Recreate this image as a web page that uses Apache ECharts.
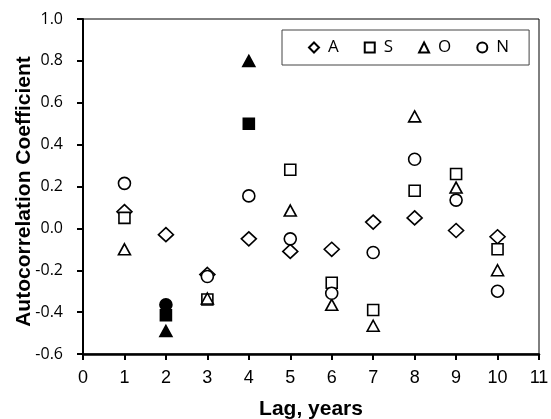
<!DOCTYPE html>
<html>
<head>
<meta charset="utf-8">
<script src="https://cdn.jsdelivr.net/npm/echarts@6/dist/echarts.min.js"></script>
<style>
html,body{margin:0;padding:0;background:#fff;}
#chart{width:551px;height:419px;}
</style>
</head>
<body>
<div id="chart"></div>
<script>
var lags = [1, 2, 3, 4, 5, 6, 7, 8, 9, 10];
var seriesA = [0.08, -0.03, -0.22, -0.05, -0.11, -0.10, 0.03, 0.05, -0.01, -0.04];
var seriesS = [0.05, -0.415, -0.34, 0.50, 0.28, -0.26, -0.39, 0.18, 0.26, -0.10];
var seriesO = [-0.10, -0.49, -0.335, 0.80, 0.085, -0.365, -0.465, 0.535, 0.195, -0.20];
var seriesN = [0.215, -0.365, -0.23, 0.155, -0.05, -0.31, -0.115, 0.33, 0.135, -0.30];
var filledA = [];
var filledS = [2, 4];
var filledO = [2, 4];
var filledN = [2];
var yTicks = [-0.6, -0.4, -0.2, 0.0, 0.2, 0.4, 0.6, 0.8, 1.0];
var xTicks = [0, 1, 2, 3, 4, 5, 6, 7, 8, 9, 10, 11];

function build(vals, filled) {
  return lags.map(function (l, i) {
    var item = { value: [l, vals[i]] };
    if (filled.indexOf(l) >= 0) {
      item.itemStyle = { color: '#000' };
    }
    return item;
  });
}

function mk(name, symbol, size, vals, filled) {
  return {
    name: name,
    type: 'scatter',
    symbol: symbol,
    symbolSize: size,
    itemStyle: { color: '#fff', borderColor: '#000', borderWidth: 1.6, opacity: 1 },
    emphasis: { disabled: true },
    data: build(vals, filled)
  };
}

var chart = echarts.init(document.getElementById('chart'), null, { renderer: 'canvas' });
chart.setOption({
  animation: false,
  backgroundColor: '#fff',
  grid: {
    left: 83, right: 12, top: 19, bottom: 65,
    containLabel: false,
    outerBoundsMode: 'none',
    show: true, borderColor: '#000', borderWidth: 1, backgroundColor: 'transparent'
  },
  legend: {
    left: 282, top: 30,
    orient: 'horizontal',
    padding: [9, 20, 9, 26],
    borderColor: '#444', borderWidth: 1,
    itemWidth: 10, itemHeight: 10,
    itemGap: 25,
    textStyle: { fontFamily: 'Open Sans', fontSize: 17, color: '#000', padding: [0, 0, 0, 4], lineHeight: 17 },
    data: [
      { name: 'A', icon: 'diamond' },
      { name: 'S', icon: 'rect' },
      { name: 'O', icon: 'triangle' },
      { name: 'N', icon: 'circle' }
    ]
  },
  xAxis: {
    type: 'value',
    min: xTicks[0], max: xTicks[xTicks.length - 1], interval: 1,
    name: 'Lag, years',
    nameLocation: 'middle',
    nameGap: 45,
    nameMoveOverlap: false,
    nameTextStyle: { fontFamily: 'Liberation Sans', fontWeight: 'bold', fontSize: 21, color: '#000' },
    axisLine: { onZero: false, lineStyle: { color: '#000', width: 2.5 } },
    axisTick: { show: true, length: 6, lineStyle: { color: '#000', width: 2 } },
    axisLabel: { fontFamily: 'Liberation Sans', fontSize: 18, color: '#000', margin: 15 },
    splitLine: { show: false }
  },
  yAxis: {
    type: 'value',
    min: yTicks[0], max: yTicks[yTicks.length - 1], interval: 0.2,
    name: 'Autocorrelation Coefficient',
    nameLocation: 'middle',
    nameGap: 48,
    nameMoveOverlap: false,
    nameTextStyle: { fontFamily: 'Liberation Sans', fontWeight: 'bold', fontSize: 21, color: '#000', padding: [0, 10, 0, 0] },
    axisLine: { onZero: false, lineStyle: { color: '#000', width: 2 } },
    axisTick: { show: true, length: 6, lineStyle: { color: '#000', width: 2 } },
    axisLabel: {
      fontFamily: 'Open Sans', fontSize: 16, color: '#000', margin: 20,
      formatter: function (v) { return (Math.round(v * 10) / 10).toFixed(1); }
    },
    splitLine: { show: false }
  },
  series: [
    mk('A', 'diamond', [15, 14], seriesA, filledA),
    mk('S', 'rect', 11, seriesS, filledS),
    mk('O', 'triangle', [12, 11], seriesO, filledO),
    mk('N', 'circle', 12, seriesN, filledN)
  ]
});
</script>
</body>
</html>
